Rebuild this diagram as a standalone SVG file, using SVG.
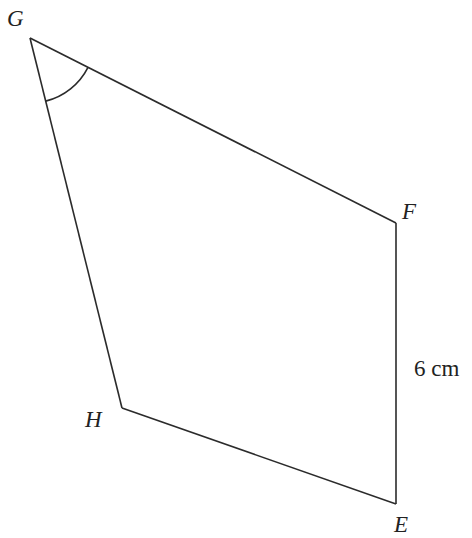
<svg xmlns="http://www.w3.org/2000/svg" width="472" height="538" viewBox="0 0 472 538">
  <style>
    .edge { fill: none; stroke: #2b2b2b; stroke-width: 1.6; stroke-linejoin: miter; }
    .lbl { font-family: "Liberation Serif", "Times New Roman", serif; font-size: 23px; fill: #222; }
    .it { font-style: italic; }
  </style>
  <rect width="472" height="538" fill="#ffffff"/>
  <g id="connectors">
    <line class="edge" x1="30" y1="38" x2="396" y2="223"/>
    <line class="edge" x1="396" y1="223" x2="396" y2="504"/>
    <line class="edge" x1="396" y1="504" x2="122" y2="408"/>
    <line class="edge" x1="122" y1="408" x2="30" y2="38"/>
    <path id="angle-G" class="edge" d="M 88 67.3 A 65 65 0 0 1 45.7 101.1"/>
  </g>
  <g id="node-G"><text class="lbl it" x="7" y="26">G</text></g>
  <g id="node-F"><text class="lbl it" x="402" y="219">F</text></g>
  <g id="node-E"><text class="lbl it" x="394" y="532">E</text></g>
  <g id="node-H"><text class="lbl it" x="85" y="427">H</text></g>
  <g id="label-FE"><text class="lbl" x="414" y="376" font-size="26">6 cm</text></g>
</svg>
